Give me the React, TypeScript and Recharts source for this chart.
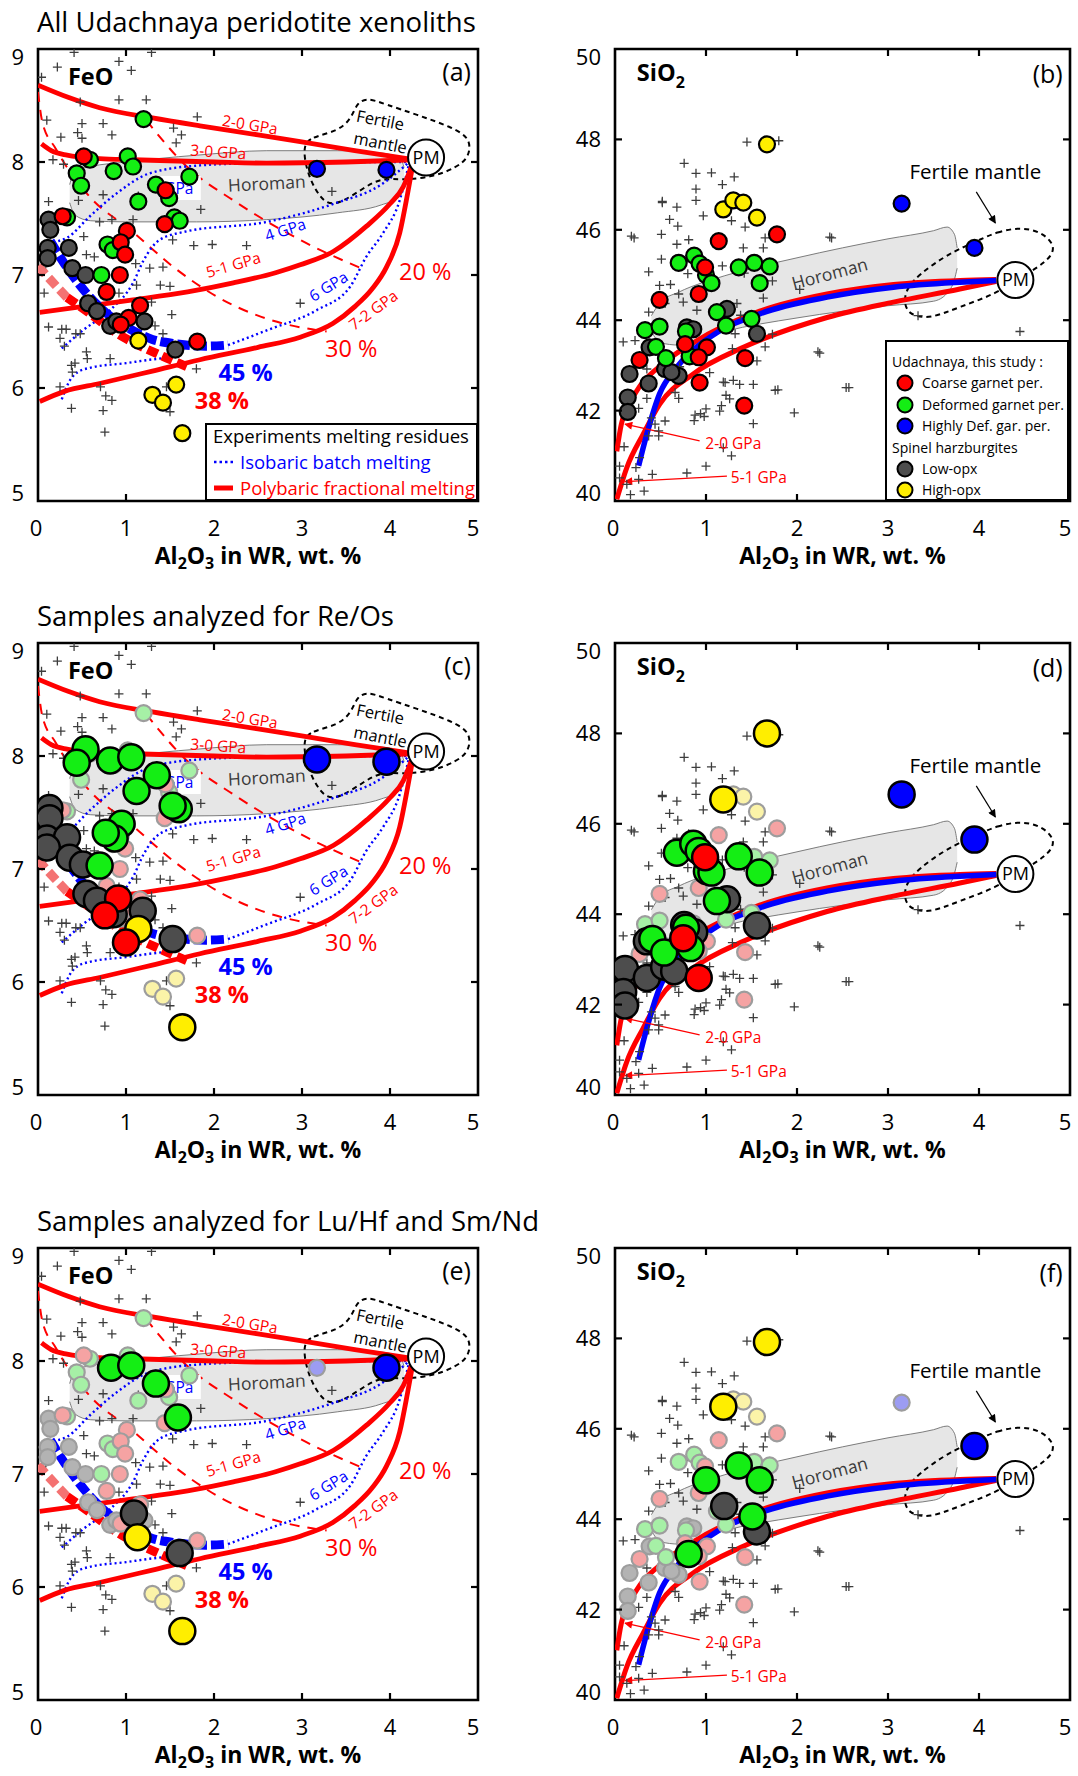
import React from 'react';
import { ComposedChart, Scatter, Line, Area, XAxis, YAxis, ReferenceArea, Legend } from 'recharts';

const FONT = "'Open Sans', 'DejaVu Sans', sans-serif";

// ---------- FeO vs Al2O3, all samples (panel a, faded in c / e) ----------
const feoLowOpx = [[0.12, 7.49], [0.14, 7.40], [0.11, 7.24], [0.35, 7.24], [0.11, 7.15], [0.39, 7.06], [0.54, 7.0], [0.57, 6.75], [0.67, 6.68], [1.21, 6.59], [0.82, 6.55], [0.89, 6.59], [1.56, 6.34]];
const feoHighOpx = [[1.14, 6.42], [1.57, 6.03], [1.30, 5.94], [1.42, 5.87], [1.64, 5.60]];
const feoDeformed = [[1.20, 8.38], [0.59, 8.02], [0.44, 7.90], [0.49, 7.79], [0.86, 7.92], [1.02, 8.05], [1.08, 7.96], [1.14, 7.65], [1.72, 7.87], [1.34, 7.80], [1.49, 7.68], [1.55, 7.51], [1.61, 7.48], [0.33, 7.51], [0.79, 7.27], [0.85, 7.22], [0.72, 7.0]];
const feoCoarse = [[0.52, 8.05], [1.45, 7.75], [1.44, 7.45], [0.28, 7.52], [1.01, 7.39], [0.94, 7.29], [0.99, 7.18], [0.93, 7.0], [0.78, 6.85], [1.16, 6.73], [1.03, 6.62], [0.94, 6.56], [1.81, 6.41]];
const feoHighDef = [[3.17, 7.94], [3.96, 7.93]];

// Re/Os subset (panel c)
const feoReOsLow = [[0.13, 7.54], [0.13, 7.45], [0.10, 7.27], [0.33, 7.28], [0.10, 7.19], [0.36, 7.10], [0.51, 7.04], [0.55, 6.78], [0.67, 6.72], [0.86, 6.60], [1.19, 6.63], [1.53, 6.38]];
const feoReOsHigh = [[1.14, 6.47], [1.64, 5.60]];
const feoReOsDef = [[0.54, 8.06], [0.44, 7.94], [0.82, 7.96], [1.06, 7.99], [1.35, 7.83], [1.12, 7.69], [1.60, 7.53], [1.53, 7.56], [0.95, 7.40], [0.87, 7.27], [0.77, 7.32], [0.70, 7.03]];
const feoReOsCoarse = [[0.91, 6.74], [0.76, 6.59], [1.00, 6.35]];
const feoReOsHD = [[3.17, 7.97], [3.96, 7.95]];

// Lu/Hf + Sm/Nd subset (panel e)
const feoLuHfLow = [[1.09, 6.65], [1.61, 6.30]];
const feoLuHfHigh = [[1.13, 6.44], [1.64, 5.61]];
const feoLuHfDef = [[0.83, 7.94], [1.06, 7.96], [1.34, 7.80], [1.59, 7.50]];
const feoLuHfHD = [[3.96, 7.94]];

// literature whole rocks (crosses)
const feoCross = [[0.41, 8.97], [1.29, 8.97], [0.22, 8.84], [0.92, 8.89], [1.06, 8.81], [0.04, 8.75], [0.92, 8.55], [1.23, 8.55], [0.48, 8.53], [0.10, 8.37], [0.50, 8.34], [0.74, 8.34], [1.81, 8.40], [0.26, 8.22], [0.45, 8.26], [0.50, 8.21], [0.84, 8.24], [1.54, 8.30], [1.63, 8.24], [1.57, 8.17], [0.17, 8.02], [0.29, 7.98], [0.12, 7.65], [0.46, 7.66], [0.74, 7.71], [1.14, 7.70], [1.85, 7.58], [3.34, 7.74], [0.70, 7.47], [0.84, 7.49], [0.52, 7.34], [1.08, 7.49], [1.53, 7.31], [1.77, 7.26], [1.98, 7.27], [2.37, 7.26], [0.55, 7.18], [0.64, 7.16], [1.11, 7.10], [1.27, 7.06], [1.42, 7.07], [0.09, 7.10], [1.12, 6.91], [1.39, 6.91], [1.50, 6.90], [0.07, 6.84], [0.92, 6.84], [1.29, 6.76], [1.52, 6.65], [0.12, 6.54], [0.27, 6.52], [0.32, 6.52], [0.25, 6.44], [0.30, 6.37], [0.43, 6.48], [0.48, 6.48], [1.42, 6.48], [1.33, 6.55], [2.98, 6.75], [0.55, 6.32], [0.56, 6.26], [0.82, 6.26], [0.38, 6.20], [0.42, 6.22], [0.39, 6.14], [1.80, 6.17], [0.25, 6.01], [0.71, 6.01], [0.77, 5.93], [0.84, 5.89], [0.38, 5.82], [0.74, 5.80], [1.50, 5.79], [0.76, 5.61], [1.46, 6.01]];

// melting models, FeO
const feoPoly20 = [[0, 8.68], [0.35, 8.57], [0.7, 8.48], [1.3, 8.39], [1.84, 8.32], [2.5, 8.24], [2.98, 8.18], [3.6, 8.1], [4.27, 8.02]];
const feoPoly30 = [[0.04, 8.16], [0.15, 8.1], [0.33, 8.06], [0.7, 8.03], [1.08, 8.02], [2.0, 8.0], [2.6, 7.99], [3.5, 8.0], [4.27, 8.02]];
const feoPoly51 = [[0.02, 6.67], [0.5, 6.72], [1.08, 6.78], [1.7, 6.85], [2.22, 6.93], [2.7, 7.02], [2.98, 7.09], [3.36, 7.21], [3.73, 7.43], [4.0, 7.63], [4.15, 7.78], [4.27, 8.02]];
const feoPoly72 = [[0.02, 5.88], [0.3, 5.97], [0.7, 6.04], [1.3, 6.15], [1.84, 6.25], [2.5, 6.36], [2.98, 6.45], [3.35, 6.57], [3.6, 6.72], [3.8, 6.88], [3.96, 7.07], [4.11, 7.37], [4.2, 7.72], [4.27, 8.02]];
const feoIso20 = [[1.23, 8.37], [1.69, 7.96], [2.22, 7.66], [2.98, 7.31], [3.73, 7.04]];
const feoIso30 = [[0.0, 8.62], [0.05, 8.35], [0.2, 8.12], [0.59, 7.69], [1.05, 7.40], [1.54, 7.07], [2.03, 6.81], [2.5, 6.64], [2.79, 6.57], [3.28, 6.50]];
const feoBatch3 = [[0.23, 7.30], [0.33, 7.33], [0.59, 7.52], [0.89, 7.72], [1.27, 7.9], [1.84, 7.97], [2.5, 7.99], [3.5, 8.0], [4.22, 8.0]];
const feoBatch4 = [[0.27, 6.35], [0.51, 6.51], [0.82, 6.69], [1.08, 6.93], [1.2, 7.13], [1.38, 7.31], [1.65, 7.38], [2.6, 7.47], [3.36, 7.63], [3.9, 7.8], [4.22, 8.0]];
const feoBatch6 = [[2.16, 6.38], [2.6, 6.51], [3.17, 6.69], [3.55, 6.90], [3.73, 7.16], [3.92, 7.37], [4.11, 7.66], [4.22, 8.0]];
const feoBatch7 = [[0.27, 5.90], [0.35, 6.05], [0.45, 6.14], [0.6, 6.18], [1.0, 6.22], [1.27, 6.25], [1.5, 6.27]];
const feoMelt45 = [[0.14, 7.30], [0.3, 7.1], [0.55, 6.84], [0.78, 6.66], [1.05, 6.52], [1.3, 6.43], [1.58, 6.39], [1.9, 6.37], [2.16, 6.38]];
const feoMelt38Pale = [[0.0, 7.08], [0.15, 6.95], [0.33, 6.80]];
const feoMelt38 = [[0.33, 6.80], [0.48, 6.72], [0.97, 6.45], [1.42, 6.28], [1.69, 6.19]];
const feoHoroman = [[0.36, 7.64, 7.80], [0.42, 7.53, 7.92], [0.6, 7.48, 7.96], [1.0, 7.47, 8.0], [1.8, 7.47, 8.06], [2.6, 7.49, 8.1], [3.4, 7.55, 8.1], [3.9, 7.62, 8.08], [4.12, 7.7, 8.03], [4.16, 7.8, 7.95]];
const feoFertile = [[3.01, 8.14], [3.10, 8.22], [3.40, 8.27], [3.56, 8.38], [3.62, 8.52], [3.74, 8.57], [3.95, 8.51], [4.3, 8.42], [4.7, 8.31], [4.92, 8.21], [4.9, 8.04], [4.75, 7.95], [4.5, 7.87], [4.15, 7.84], [3.9, 7.86], [3.70, 7.77], [3.45, 7.64], [3.28, 7.62], [3.15, 7.75], [3.05, 7.93]];
const feoPM = [[4.41, 8.04]];

// ---------- SiO2 vs Al2O3 (panel b, faded in d / f) ----------
const siLowOpx = [[1.23, 44.25], [1.56, 43.70], [0.38, 43.40], [0.79, 43.84], [0.86, 43.8], [0.16, 42.81], [0.37, 42.60], [0.55, 42.92], [0.70, 42.77], [0.62, 42.85], [0.14, 42.29], [0.14, 41.97]];
const siHighOpx = [[1.67, 47.89], [1.19, 46.45], [1.30, 46.65], [1.41, 46.60], [1.56, 46.27]];
const siDeformed = [[0.70, 45.27], [0.87, 45.43], [0.93, 45.25], [1.0, 45.0], [1.06, 44.82], [1.36, 45.17], [1.53, 45.27], [1.70, 45.19], [1.59, 44.82], [1.12, 44.18], [1.22, 43.88], [1.50, 44.03], [0.33, 43.78], [0.49, 43.86], [0.45, 43.41], [0.56, 43.16], [0.78, 43.75], [0.82, 43.2]];
const siCoarse = [[1.78, 45.9], [1.14, 45.75], [0.99, 45.17], [0.49, 44.45], [0.92, 44.58], [0.77, 43.47], [1.01, 43.40], [0.92, 43.18], [0.27, 43.12], [1.43, 43.16], [0.93, 42.62], [1.42, 42.11]];
const siHighDef = [[3.15, 46.58], [3.95, 45.6]];

const siReOsLow = [[1.23, 44.33], [1.56, 43.75], [0.76, 43.76], [0.87, 43.6], [0.35, 43.4], [0.11, 42.79], [0.35, 42.59], [0.54, 42.84], [0.65, 42.74], [0.09, 42.28], [0.11, 41.98]];
const siReOsHigh = [[1.67, 48.0], [1.19, 46.54]];
const siReOsDef = [[0.68, 45.36], [0.86, 45.56], [0.92, 45.4], [1.01, 44.95], [1.06, 44.92], [1.36, 45.28], [1.59, 44.92], [1.12, 44.29], [0.78, 43.7], [0.83, 43.25], [0.41, 43.45], [0.54, 43.15]];
const siReOsCoarse = [[0.99, 45.26], [0.75, 43.47], [0.92, 42.59]];
const siReOsHD = [[3.15, 46.65], [3.95, 45.65]];

const siLuHfLow = [[1.20, 44.29], [1.56, 43.73]];
const siLuHfHigh = [[1.67, 47.92], [1.19, 46.49]];
const siLuHfDef = [[1.36, 45.19], [1.0, 44.86], [1.59, 44.86], [1.51, 44.06], [0.81, 43.23]];
const siLuHfHD = [[3.95, 45.62]];

const siCross = [[1.45, 47.94], [1.80, 47.97], [0.76, 47.47], [0.89, 47.25], [1.06, 47.26], [1.31, 47.17], [1.18, 47.0], [0.89, 46.9], [0.52, 46.63], [0.68, 46.5], [0.89, 46.65], [0.97, 46.31], [0.60, 46.23], [0.69, 46.08], [0.18, 45.86], [0.51, 45.9], [1.28, 46.2], [1.43, 46.06], [1.65, 45.82], [2.36, 45.84], [0.68, 45.68], [0.81, 45.78], [0.51, 45.35], [0.80, 45.38], [0.37, 45.07], [0.80, 45.03], [1.41, 45.6], [1.63, 45.6], [1.18, 45.2], [1.42, 45.04], [1.73, 44.87], [2.03, 44.68], [0.49, 44.77], [0.61, 44.79], [0.70, 44.58], [0.37, 44.18], [0.55, 44.37], [0.75, 44.40], [0.90, 44.22], [1.34, 44.37], [1.63, 44.49], [1.38, 44.11], [0.09, 43.52], [0.22, 43.55], [0.34, 43.85], [1.32, 43.70], [1.65, 43.41], [1.73, 43.69], [2.23, 43.30], [0.35, 42.92], [0.71, 42.97], [1.04, 42.84], [1.56, 43.10], [1.29, 43.37], [1.21, 42.62], [1.30, 42.67], [1.52, 42.58], [1.76, 42.45], [2.54, 42.51], [0.35, 42.27], [0.70, 42.27], [1.22, 42.34], [0.26, 42.05], [0.88, 41.90], [0.98, 41.87], [1.15, 41.99], [1.97, 41.95], [1.26, 42.26], [1.17, 42.11], [1.0, 42.04], [0.94, 41.93], [0.87, 41.78], [1.52, 41.71], [1.19, 41.18], [1.28, 41.0], [1.0, 40.77], [0.79, 40.62], [0.41, 40.59], [0.32, 40.22], [0.17, 40.14], [0.05, 40.77], [0.10, 41.20], [0.27, 40.96], [0.37, 41.44], [0.48, 41.55], [0.48, 41.44], [0.44, 41.70], [0.40, 41.84], [0.55, 41.77], [0.66, 42.40], [0.05, 40.51], [0.13, 40.37], [0.26, 40.48], [0.23, 40.74], [4.45, 43.75], [3.33, 44.10], [0.21, 45.82], [2.38, 45.82], [0.52, 46.6], [1.79, 42.46], [1.37, 42.58], [1.19, 42.63], [2.25, 43.27], [2.57, 42.51]];

const siPoly20 = [[0.02, 41.1], [0.07, 41.7], [0.24, 42.44], [0.49, 42.98], [0.86, 43.5], [1.59, 44.2], [2.33, 44.58], [3.06, 44.79], [3.79, 44.88], [4.19, 44.9]];
const siPoly51 = [[0.02, 40.04], [0.13, 40.74], [0.31, 41.48], [0.49, 42.14], [0.86, 42.81], [1.41, 43.40], [2.33, 44.06], [3.06, 44.40], [3.79, 44.69], [4.19, 44.86]];
const siBatch = [[0.26, 40.78], [0.35, 41.48], [0.49, 42.37], [0.68, 42.96], [1.04, 43.62], [1.59, 44.14], [2.33, 44.51], [3.06, 44.73], [3.79, 44.84], [4.19, 44.88]];
const siHoroman = [[0.40, 43.75, 44.1], [0.5, 43.5, 44.4], [0.7, 43.45, 44.62], [1.2, 43.75, 44.98], [2.0, 44.05, 45.38], [3.0, 44.32, 45.8], [3.5, 44.42, 45.98], [3.65, 44.6, 46.06], [3.73, 44.9, 45.9], [3.76, 45.15, 45.6]];
const siFertile = [[4.01, 45.78], [4.19, 45.95], [4.45, 46.06], [4.70, 45.95], [4.86, 45.6], [4.73, 45.27], [4.5, 45.0], [4.19, 44.58], [3.79, 44.3], [3.46, 44.02], [3.22, 44.12], [3.17, 44.44], [3.22, 44.75], [3.35, 45.02], [3.61, 45.4], [3.85, 45.64]];
const siPM = [[4.40, 44.89]];
const siArrow20 = [[0.93, 41.33], [0.11, 41.70]];
const siArrow51 = [[1.23, 40.55], [0.11, 40.43]];
const siArrowFert = [[3.97, 46.84], [4.18, 46.15]];

// ---------- labels (anchor in data units) ----------
const feoNotes = [
  { x: 0.34, y: 8.76, t: 'FeO', k: 'name' },
  { x: 2.41, y: 8.33, t: '2-0 GPa', k: 'gpa', rot: 9 },
  { x: 2.05, y: 8.09, t: '3-0 GPa', k: 'gpa', rot: 4 },
  { x: 2.22, y: 7.09, t: '5-1 GPa', k: 'gpa', rot: -16 },
  { x: 3.81, y: 6.69, t: '7-2 GPa', k: 'gpa', rot: -36 },
  { x: 2.81, y: 7.40, t: '4 GPa', k: 'gpaB', rot: -18 },
  { x: 3.30, y: 6.90, t: '6 GPa', k: 'gpaB', rot: -32 },
  { x: 1.60, y: 7.77, t: 'GPa', k: 'gpaBox' },
  { x: 4.40, y: 7.03, t: '20 %', k: 'pct' },
  { x: 3.56, y: 6.35, t: '30 %', k: 'pct' },
  { x: 2.36, y: 6.14, t: '45 %', k: 'pctB' },
  { x: 2.09, y: 5.89, t: '38 %', k: 'pctR' },
  { x: 2.60, y: 7.81, t: 'Horoman', k: 'horo', rot: -3 },
  { x: 3.89, y: 8.37, t: 'Fertile', k: 'fert', rot: 11 },
  { x: 3.89, y: 8.17, t: 'mantle', k: 'fert', rot: 11 },
];
const siNotes = [
  { x: 0.24, y: 49.47, t: 'SiO2', k: 'name' },
  { x: 2.36, y: 45.03, t: 'Horoman', k: 'horo', rot: -15 },
  { x: 3.96, y: 47.28, t: 'Fertile mantle', k: 'fertL' },
  { x: 1.30, y: 41.27, t: '2-0 GPa', k: 'gpa' },
  { x: 1.58, y: 40.52, t: '5-1 GPa', k: 'gpa' },
];

const COL = { lowOpx: '#4d4d4d', highOpx: '#ffee00', deformed: '#14ee14', coarse: '#ff0000', highDef: '#0000ff' };
const FADED = { lowOpx: '#b3b3b3', highOpx: '#fbf3a8', deformed: '#a6f0a6', coarse: '#f5a3a3', highDef: '#9c9cf2' };
const ORDER = ['lowOpx', 'highOpx', 'deformed', 'coarse', 'highDef'];

const feoAll = { lowOpx: feoLowOpx, highOpx: feoHighOpx, deformed: feoDeformed, coarse: feoCoarse, highDef: feoHighDef };
const siAll = { lowOpx: siLowOpx, highOpx: siHighOpx, deformed: siDeformed, coarse: siCoarse, highDef: siHighDef };
const feoReOs = { lowOpx: feoReOsLow, highOpx: feoReOsHigh, deformed: feoReOsDef, coarse: feoReOsCoarse, highDef: feoReOsHD };
const siReOs = { lowOpx: siReOsLow, highOpx: siReOsHigh, deformed: siReOsDef, coarse: siReOsCoarse, highDef: siReOsHD };
const feoLuHf = { lowOpx: feoLuHfLow, highOpx: feoLuHfHigh, deformed: feoLuHfDef, coarse: [], highDef: feoLuHfHD };
const siLuHf = { lowOpx: siLuHfLow, highOpx: siLuHfHigh, deformed: siLuHfDef, coarse: [], highDef: siLuHfHD };

const P = (a: number[][]) => a.map(([x, y]) => ({ x, y }));
const B = (a: number[][]) => a.map(([x, lo, hi]) => ({ x, r: [lo, hi] }));

const NOTE_STYLE: any = {
  gpa: { fill: '#ff0000', fontSize: 15.5 },
  gpaB: { fill: '#0000ff', fontSize: 15.5 },
  gpaBox: { fill: '#0000ff', fontSize: 15.5, box: true },
  pct: { fill: '#ff0000', fontSize: 23.5 },
  pctB: { fill: '#0000ff', fontSize: 23.5, fontWeight: 700 },
  pctR: { fill: '#ff0000', fontSize: 23.5, fontWeight: 700 },
  horo: { fill: '#3a3a3a', fontSize: 17.5 },
  fert: { fill: '#000', fontSize: 16.5 },
  fertL: { fill: '#000', fontSize: 20.5 },
  name: { fill: '#000', fontSize: 23.5, fontWeight: 700, anchor: 'start' },
  tag: { fill: '#000', fontSize: 25, anchor: 'end' },
};

const Note = (p: any) => {
  const n = p.payload;
  const s = NOTE_STYLE[n.k];
  return (
    <g>
      {s.box && <rect x={p.cx - 18} y={p.cy - 12} width={40} height={24} fill="#fff" />}
      <text x={p.cx} y={p.cy} dy="0.36em" textAnchor={s.anchor || 'middle'} fill={s.fill} fontSize={s.fontSize}
        fontWeight={s.fontWeight || 400} transform={n.rot ? `rotate(${n.rot} ${p.cx} ${p.cy})` : undefined}>
        {n.t === 'SiO2' ? (<>SiO<tspan dy={7} fontSize={16}>2</tspan></>) : n.t}
      </text>
    </g>
  );
};

const cross = (p: any) => (
  <path d={`M${p.cx - 4.5},${p.cy}h9M${p.cx},${p.cy - 4.5}v9`} stroke="#3d3d3d" strokeWidth={1.3} fill="none" />
);
const dot = (fill: string, stroke: string, r: number, sw: number) => (p: any) => (
  <circle cx={p.cx} cy={p.cy} r={r} fill={fill} stroke={stroke} strokeWidth={sw} />
);
const pmShape = (p: any) => (
  <g>
    <circle cx={p.cx} cy={p.cy} r={18} fill="#fff" stroke="#000" strokeWidth={2} />
    <text x={p.cx} y={p.cy} dy="0.36em" textAnchor="middle" fontSize={18} fill="#000">PM</text>
  </g>
);

const PLOT_H = 452;
const CFG: any = {
  feo: { width: 490, mLeft: 8, yWidth: 30, mRight: 12, domain: [5, 9], ticks: [5, 6, 7, 8, 9] },
  si: { width: 518, mLeft: 15, yWidth: 40, mRight: 8, domain: [40, 50], ticks: [40, 42, 44, 46, 48, 50] },
};

const XTick = ({ x, y, payload }: any) => {
  const v = payload.value;
  const inner = v > 0 && v < 5;
  const shift = v === 0 ? -2 : v === 5 ? -5 : 0;
  return (
    <g>
      {inner && <line x1={x} x2={x} y1={y} y2={y - 7} stroke="#000" strokeWidth={2.2} />}
      {inner && <line x1={x} x2={x} y1={y - PLOT_H} y2={y - PLOT_H + 7} stroke="#000" strokeWidth={2.2} />}
      <text x={x + shift} y={y + 35} textAnchor="middle" fontSize={22} fill="#000">{v}</text>
    </g>
  );
};

const makeYTick = (plotW: number, lo: number, hi: number) => ({ x, y, payload }: any) => {
  const v = payload.value;
  const inner = v > lo && v < hi;
  const dy = v === hi ? 8 : v === lo ? -8 : 0;
  return (
    <g>
      {inner && <line x1={x} x2={x + 7} y1={y} y2={y} stroke="#000" strokeWidth={2.2} />}
      {inner && <line x1={x + plotW - 7} x2={x + plotW} y1={y} y2={y} stroke="#000" strokeWidth={2.2} />}
      <text x={x - 14} y={y + dy} dy="0.36em" textAnchor="end" fontSize={22} fill="#000">{v}</text>
    </g>
  );
};

const AxisTitle = ({ cx }: any) => (
  <text x={cx} y={564} textAnchor="middle" fontSize={23} fontWeight={700} fill="#000">
    Al<tspan dy={5} fontSize={16}>2</tspan><tspan dy={-5}>O</tspan><tspan dy={5} fontSize={16}>3</tspan><tspan dy={-5}> in WR, wt. %</tspan>
  </text>
);

const LegendA = () => (
  <div style={{ width: 273, height: 78, boxSizing: 'border-box', border: '2px solid #000', background: '#fff', fontFamily: FONT, fontSize: 18.5, lineHeight: '26px', paddingLeft: 6, color: '#000', whiteSpace: 'nowrap' }}>
    <div style={{ marginTop: -2 }}>Experiments melting residues</div>
    <div style={{ color: '#0000ff', display: 'flex', alignItems: 'center' }}>
      <svg width={22} height={8} style={{ marginRight: 5 }}><line x1={1} y1={4} x2={20} y2={4} stroke="#0000ff" strokeWidth={2.5} strokeDasharray="2.5 3" /></svg>
      Isobaric batch melting
    </div>
    <div style={{ color: '#ff0000', display: 'flex', alignItems: 'center' }}>
      <svg width={22} height={8} style={{ marginRight: 5 }}><line x1={1} y1={4} x2={20} y2={4} stroke="#ff0000" strokeWidth={5} /></svg>
      Polybaric fractional melting
    </div>
  </div>
);

const LEGEND_B = [
  { label: 'Coarse garnet per.', key: 'coarse' },
  { label: 'Deformed garnet per.', key: 'deformed' },
  { label: 'Highly Def. gar. per.', key: 'highDef' },
  { label: 'Spinel harzburgites', key: '' },
  { label: 'Low-opx', key: 'lowOpx' },
  { label: 'High-opx', key: 'highOpx' },
];
const LegendB = () => (
  <div style={{ width: 184, height: 161, boxSizing: 'border-box', border: '2px solid #000', background: '#fff', fontFamily: FONT, fontSize: 14, lineHeight: '21.4px', padding: '9px 0 0 5px', color: '#000', whiteSpace: 'nowrap' }}>
    <div>Udachnaya, this study :</div>
    {LEGEND_B.map((it) => (
      <div key={it.label} style={{ display: 'flex', alignItems: 'center' }}>
        {it.key && (
          <svg width={22} height={18} style={{ marginLeft: 3, marginRight: 5 }}>
            <circle cx={10} cy={9} r={7.5} fill={(COL as any)[it.key]} stroke="#000" strokeWidth={2} />
          </svg>
        )}
        {it.label}
      </div>
    ))}
  </div>
);

function Panel({ kind, tag, hi, legend, id }: any) {
  const c = CFG[kind];
  const plotW = c.width - c.mLeft - c.yWidth - c.mRight;
  const [lo, top] = c.domain;
  const all = kind === 'feo' ? feoAll : siAll;
  const notes = [...(kind === 'feo' ? feoNotes : siNotes), { x: 4.92, y: kind === 'feo' ? 8.80 : 49.45, t: tag, k: 'tag' }];
  const faded = !!hi;
  const YTick = makeYTick(plotW, lo, top);
  const line = (data: number[][], stroke: string, w: number, dash?: string, type: any = 'monotone', extra: any = {}) => (
    <Line data={P(data)} dataKey="y" type={type} stroke={stroke} strokeWidth={w} strokeDasharray={dash}
      dot={false} activeDot={false} isAnimationActive={false} legendType="none" {...extra} />
  );
  return (
    <ComposedChart width={c.width} height={600} margin={{ top: 49, right: c.mRight, bottom: 49, left: c.mLeft }}>
      <defs>
        <marker id={`arR${id}`} viewBox="0 0 10 10" refX="9" refY="5" markerWidth="9" markerHeight="8" markerUnits="userSpaceOnUse" orient="auto">
          <path d="M0,0 L10,5 L0,10 z" fill="#ff0000" />
        </marker>
        <marker id={`arK${id}`} viewBox="0 0 10 10" refX="9" refY="5" markerWidth="9" markerHeight="8" markerUnits="userSpaceOnUse" orient="auto">
          <path d="M0,0 L10,5 L0,10 z" fill="#000" />
        </marker>
      </defs>
      <XAxis type="number" dataKey="x" domain={[0, 5]} ticks={[0, 1, 2, 3, 4, 5]} interval={0} allowDataOverflow
        axisLine={false} tickLine={false} tickSize={0} tickMargin={0} height={50} tick={(p: any) => <XTick {...p} />}
        label={<AxisTitle cx={c.mLeft + c.yWidth + plotW / 2} />} />
      <YAxis type="number" dataKey="y" domain={c.domain} ticks={c.ticks} interval={0} allowDataOverflow
        axisLine={false} tickLine={false} tickSize={0} tickMargin={0} width={c.yWidth} tick={(p: any) => <YTick {...p} />} />

      <Area data={B(kind === 'feo' ? feoHoroman : siHoroman)} dataKey="r" type="monotone" fill="#e6e6e6" fillOpacity={1}
        stroke="#6e6e6e" strokeWidth={0.9} isAnimationActive={false} legendType="none" dot={false} activeDot={false} />

      {kind === 'feo' && line(feoFertile, '#000', 2, '5 4', 'basisClosed')}
      {kind === 'feo' && line(feoIso20, '#ff0000', 2, '10 8')}
      {kind === 'feo' && line(feoIso30, '#ff0000', 2, '10 8')}
      {kind === 'feo' && line(feoBatch3, '#0000ff', 2.4, '2 3')}
      {kind === 'feo' && line(feoBatch4, '#0000ff', 2.4, '2 3')}
      {kind === 'feo' && line(feoBatch6, '#0000ff', 2.4, '2 3')}
      {kind === 'feo' && line(feoBatch7, '#0000ff', 2.4, '2 3')}
      {kind === 'feo' && line(feoPoly20, '#ff0000', 4.8)}
      {kind === 'feo' && line(feoPoly30, '#ff0000', 4.8)}
      {kind === 'feo' && line(feoPoly51, '#ff0000', 4.8)}
      {kind === 'feo' && line(feoPoly72, '#ff0000', 4.8)}
      {kind === 'feo' && line(feoMelt38Pale, '#f47272', 9, '11 5')}
      {kind === 'feo' && line(feoMelt38, '#ff0000', 9, '11 5')}
      {kind === 'feo' && line(feoMelt45, '#0000ff', 9, '13 4')}

      {kind === 'si' && line(siFertile, '#000', 2, '5 4', 'basisClosed')}
      {kind === 'si' && line(siPoly20, '#ff0000', 5)}
      {kind === 'si' && line(siPoly51, '#ff0000', 5)}
      {kind === 'si' && line(siBatch, '#0000ff', 5.5)}
      {kind === 'si' && line(siArrow20, '#ff0000', 1.2, undefined, 'linear', { markerEnd: `url(#arR${id})` })}
      {kind === 'si' && line(siArrow51, '#ff0000', 1.2, undefined, 'linear', { markerEnd: `url(#arR${id})` })}
      {kind === 'si' && line(siArrowFert, '#000', 1.2, undefined, 'linear', { markerEnd: `url(#arK${id})` })}

      <Scatter data={P(kind === 'feo' ? feoCross : siCross)} shape={cross} isAnimationActive={false} legendType="none" />
      <Scatter data={notes.filter((n) => n.k === 'horo' || n.k === 'gpaBox')} shape={Note} isAnimationActive={false} legendType="none" />
      {ORDER.map((g) => (
        <Scatter key={`bg-${g}`} data={P((all as any)[g])} isAnimationActive={false} legendType="none"
          shape={faded ? dot((FADED as any)[g], '#9d9d9d', 8, 2.2) : dot((COL as any)[g], '#000', 8, 2.2)} />
      ))}
      {faded && ORDER.map((g) => (
        <Scatter key={`hi-${g}`} data={P(hi[g])} isAnimationActive={false} legendType="none" shape={dot((COL as any)[g], '#000', 13, 2.5)} />
      ))}
      <Scatter data={P(kind === 'feo' ? feoPM : siPM)} shape={pmShape} isAnimationActive={false} legendType="none" />
      <Scatter data={notes.filter((n) => n.k !== 'horo' && n.k !== 'gpaBox')} shape={Note} isAnimationActive={false} legendType="none" />

      <ReferenceArea x1={0} x2={5} y1={lo} y2={top} fill="none" stroke="#000" strokeWidth={2.6} ifOverflow="visible" />
      {legend && (
        <Legend layout="vertical" align="center" verticalAlign="middle" content={() => (kind === 'feo' ? <LegendA /> : <LegendB />)}
          wrapperStyle={kind === 'feo' ? { left: 205, top: 423, width: 273, height: 78 } : { left: 325, top: 340, width: 184, height: 161 }} />
      )}
    </ComposedChart>
  );
}

const ROWS = [
  { top: 0, title: 'All Udachnaya peridotite xenoliths', tags: ['(a)', '(b)'], feoHi: null, siHi: null, legend: true },
  { top: 594, title: 'Samples analyzed for Re/Os', tags: ['(c)', '(d)'], feoHi: feoReOs, siHi: siReOs, legend: false },
  { top: 1199, title: 'Samples analyzed for Lu/Hf and Sm/Nd', tags: ['(e)', '(f)'], feoHi: feoLuHf, siHi: siLuHf, legend: false },
];

export default function App() {
  return (
    <div style={{ position: 'absolute', left: 0, top: 0, width: 1078, height: 1776, background: '#fff', fontFamily: FONT, overflow: 'hidden' }}>
      {ROWS.map((row, i) => (
        <React.Fragment key={row.title}>
          <div style={{ position: 'absolute', left: 37, top: row.top + 8, fontSize: 27.5, lineHeight: '28px', color: '#000', whiteSpace: 'nowrap' }}>
            {row.title}
          </div>
          <div style={{ position: 'absolute', left: 0, top: row.top }}>
            <Panel kind="feo" tag={row.tags[0]} hi={row.feoHi} legend={row.legend} id={`f${i}`} />
          </div>
          <div style={{ position: 'absolute', left: 560, top: row.top }}>
            <Panel kind="si" tag={row.tags[1]} hi={row.siHi} legend={row.legend} id={`s${i}`} />
          </div>
        </React.Fragment>
      ))}
    </div>
  );
}
